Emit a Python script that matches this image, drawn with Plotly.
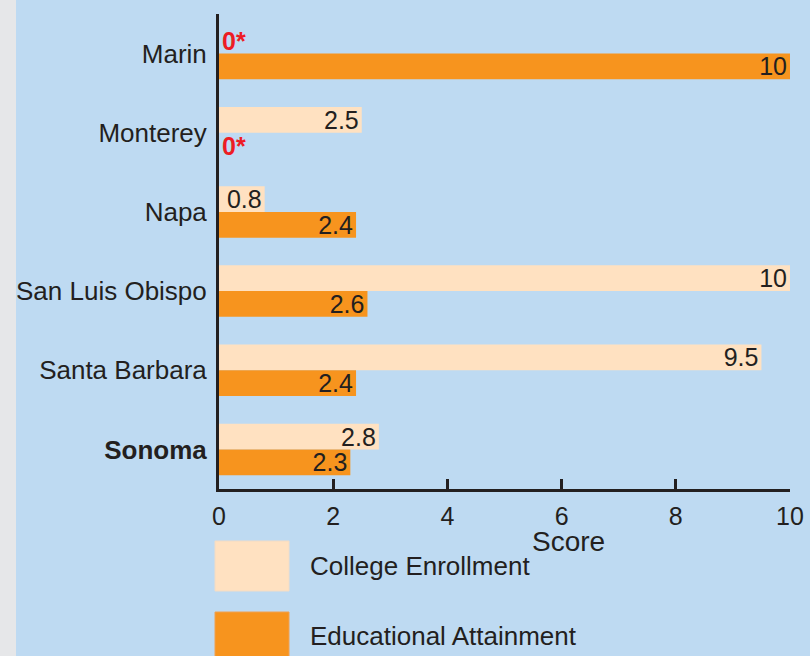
import plotly.graph_objects as go

counties = ["Marin", "Monterey", "Napa", "San Luis Obispo", "Santa Barbara", "Sonoma"]
county_labels = ["Marin", "Monterey", "Napa", "San Luis Obispo", "Santa Barbara", "<b>Sonoma</b>"]
college_enrollment = [0, 2.5, 0.8, 10, 9.5, 2.8]
educational_attainment = [10, 0, 2.4, 2.6, 2.4, 2.3]
series_names = ["College Enrollment", "Educational Attainment"]
x_ticks = [0, 2, 4, 6, 8, 10]

BLUE = "#BEDAF2"
GREY = "#E6E7E9"
PEACH = "#FFE1C1"
ORANGE = "#F7941E"
RED = "#ED1C24"
DARK = "#231F20"
FONT = "Liberation Sans, Arial, sans-serif"

W, H = 810, 656
L, R, T, B = 219, 20, 14, 167
PW, PH = W - L - R, H - T - B


def px(xp):
    return (xp - L) / PW


def py(yp):
    return (H - B - yp) / PH


def labels(vals):
    return ["<b>0*</b>" if v == 0 else f"{v:g}" for v in vals]


def positions(vals):
    return ["outside" if v == 0 else "inside" for v in vals]


def colors(vals):
    return [RED if v == 0 else DARK for v in vals]


fig = go.Figure()
for name, vals, col in [(series_names[0], college_enrollment, PEACH),
                        (series_names[1], educational_attainment, ORANGE)]:
    fig.add_trace(go.Bar(
        y=counties, x=vals, orientation="h", name=name,
        marker=dict(color=col, line=dict(width=0)),
        text=labels(vals), textposition=positions(vals), textangle=0,
        insidetextanchor="end", constraintext="none", cliponaxis=False,
        textfont=dict(family=FONT, size=25, color=colors(vals)),
        showlegend=False,
    ))

shapes = [
    dict(type="rect", xref="paper", yref="paper", x0=px(-5), x1=px(16),
         y0=py(H + 5), y1=py(-5), fillcolor=GREY, line=dict(width=0), layer="below"),
    dict(type="rect", xref="paper", yref="paper", x0=px(215), x1=px(289),
         y0=py(591), y1=py(541), fillcolor=PEACH, line=dict(color="#F2DCC6", width=1)),
    dict(type="rect", xref="paper", yref="paper", x0=px(215), x1=px(289),
         y0=py(662), y1=py(612), fillcolor=ORANGE, line=dict(color="#F0A050", width=1)),
]

annotations = [
    dict(text="Score", xref="x", x=6.12, yref="paper", y=py(541), showarrow=False,
         xanchor="center", yanchor="middle", font=dict(family=FONT, size=28, color=DARK)),
    dict(text=series_names[0], xref="paper", x=px(308), yref="paper", y=py(566),
         showarrow=False, xanchor="left", yanchor="middle",
         font=dict(family=FONT, size=26, color=DARK)),
    dict(text=series_names[1], xref="paper", x=px(308), yref="paper", y=py(636),
         showarrow=False, xanchor="left", yanchor="middle",
         font=dict(family=FONT, size=26, color=DARK)),
]

fig.update_layout(
    width=W, height=H,
    margin=dict(l=L, r=R, t=T, b=B, autoexpand=False),
    paper_bgcolor=BLUE, plot_bgcolor=BLUE,
    barmode="group", bargap=0.35, bargroupgap=0,
    font=dict(family=FONT, color=DARK),
    shapes=shapes, annotations=annotations,
    xaxis=dict(range=[0, 10], tickvals=x_ticks, ticktext=[str(t) for t in x_ticks],
               showgrid=False, zeroline=False, showline=True, linecolor=DARK, linewidth=3,
               ticks="inside", ticklen=10, tickwidth=3, tickcolor=DARK,
               tickfont=dict(family=FONT, size=25, color=DARK), ticklabelstandoff=3,
               fixedrange=True),
    yaxis=dict(categoryorder="array", categoryarray=counties, autorange="reversed",
               tickvals=counties, ticktext=county_labels,
               showgrid=False, zeroline=False, showline=True, linecolor=DARK, linewidth=3,
               ticks="", tickfont=dict(family=FONT, size=26, color=DARK),
               ticklabelstandoff=4, layer="below traces", fixedrange=True),
)

fig.write_html("out.html", config={"displayModeBar": False},
               post_script="document.body.style.margin='0';document.body.style.overflow='hidden';")
